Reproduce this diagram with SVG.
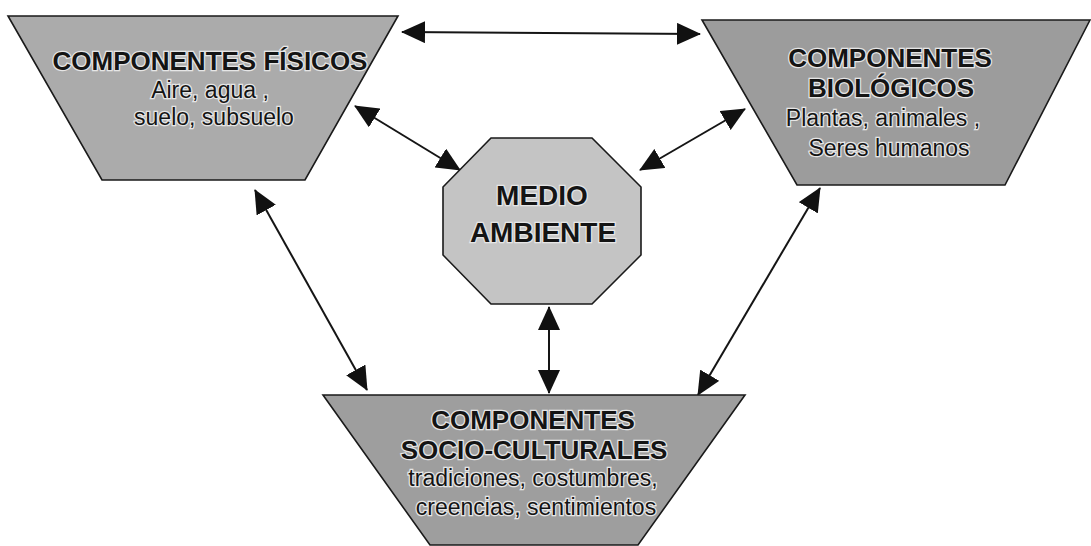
<svg xmlns="http://www.w3.org/2000/svg" width="1091" height="546" viewBox="0 0 1091 546">
<defs>
<marker id="ah" markerUnits="userSpaceOnUse" markerWidth="24" markerHeight="22" viewBox="0 0 24 22" refX="23" refY="11" orient="auto-start-reverse">
<path d="M0,0 L24,11 L0,22 z" fill="#111"/>
</marker>
<style>
.shape{stroke:#1a1a1a;stroke-width:1.6}
.t{font-family:"Liberation Sans",Arial,sans-serif;font-weight:bold;fill:#141414;stroke:#e6e6e6;stroke-width:2.5;paint-order:stroke fill;text-anchor:middle}
.s{font-family:"Liberation Sans",Arial,sans-serif;fill:#141414;stroke:#e6e6e6;stroke-width:2.5;paint-order:stroke fill;text-anchor:middle;font-size:23px}
.c{stroke:#151515;stroke-width:2;fill:none;marker-start:url(#ah);marker-end:url(#ah)}
</style>
</defs>
<rect width="1091" height="546" fill="#ffffff"/>
<g id="connectors">
<line class="c" x1="402" y1="32" x2="700" y2="34"/>
<line class="c" x1="355" y1="106" x2="460" y2="170"/>
<line class="c" x1="745" y1="109" x2="640" y2="170"/>
<line class="c" x1="255" y1="190" x2="367" y2="390"/>
<line class="c" x1="820" y1="188" x2="698" y2="395"/>
<line class="c" x1="549" y1="307" x2="549" y2="393"/>
</g>
<g id="fisicos">
<polygon class="shape" points="8,16 398,16 305,180 102,180" fill="#ababab"/>
<text class="t" x="210" y="70" font-size="26">COMPONENTES FÍSICOS</text>
<text class="s" x="210" y="98">Aire, agua ,</text>
<text class="s" x="214" y="125">suelo, subsuelo</text>
</g>
<g id="biologicos">
<polygon class="shape" points="702,20 1090,20 1005,185 797,185" fill="#9c9c9c"/>
<text class="t" x="890" y="67" font-size="26">COMPONENTES</text>
<text class="t" x="891" y="97" font-size="26">BIOLÓGICOS</text>
<text class="s" x="883" y="126">Plantas, animales ,</text>
<text class="s" x="889" y="156">Seres humanos</text>
</g>
<g id="medio">
<polygon class="shape" points="491,138 592,138 641,187 641,255 592,304 491,304 443,255 443,187" fill="#c4c4c4"/>
<text class="t" x="542" y="205" font-size="28">MEDIO</text>
<text class="t" x="543" y="242" font-size="28">AMBIENTE</text>
</g>
<g id="socioculturales">
<polygon class="shape" points="323,395 745,395 638,545 430,545" fill="#9e9e9e"/>
<text class="t" x="533" y="429" font-size="26">COMPONENTES</text>
<text class="t" x="534" y="459" font-size="26">SOCIO-CULTURALES</text>
<text class="s" x="533" y="486">tradiciones, costumbres,</text>
<text class="s" x="536" y="515">creencias, sentimientos</text>
</g>
</svg>
